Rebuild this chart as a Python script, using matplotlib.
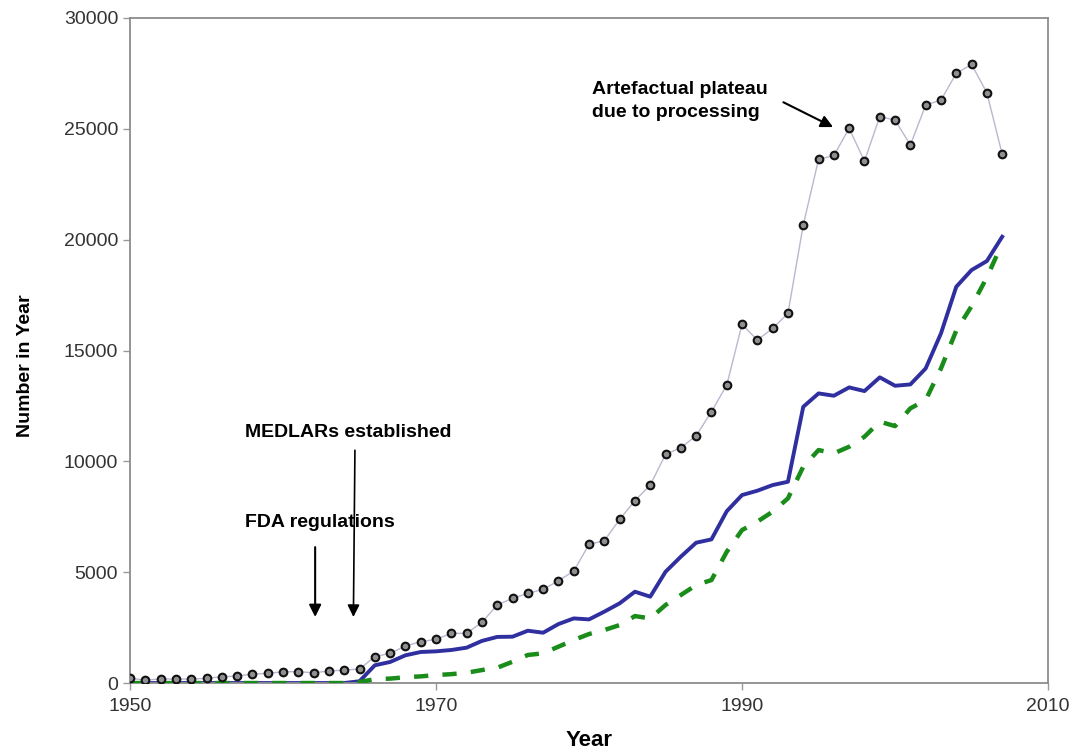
import matplotlib
matplotlib.use("Agg")
import matplotlib.pyplot as plt

plt.rcParams["font.family"] = ["Liberation Sans", "DejaVu Sans"]

years = list(range(1950, 2008))

total_records = [210, 135, 180, 180, 180, 210, 285, 315, 405, 435,
                 510, 510, 465, 540, 585, 630, 1190, 1340, 1670, 1865,
                 1970, 2240, 2240, 2740, 3520, 3820, 4045, 4225, 4615, 5050,
                 6255, 6420, 7380, 8225, 8930, 10315, 10615, 11155, 12240, 13440,
                 16180, 15470, 16000, 16675, 20660, 23620, 23800, 25020, 23545, 25550,
                 25395, 24270, 26070, 26300, 27500, 27905, 26630, 23860]

solid_series = [0, 0, 0, 0, 0, 0, 0, 0, 0, 0,
                0, 0, 0, 0, 0, 80, 800, 950, 1250, 1400,
                1430, 1490, 1595, 1900, 2080, 2090, 2360, 2270, 2660, 2915,
                2870, 3220, 3595, 4120, 3895, 5020, 5700, 6330, 6480, 7750,
                8480, 8675, 8930, 9080, 12460, 13065, 12960, 13335, 13170, 13790,
                13410, 13470, 14190, 15770, 17875, 18630, 19035, 20130]

dotted_series = [0, 0, 0, 0, 0, 0, 0, 0, 0, 0,
                 0, 0, 0, 0, 0, 50, 170, 200, 260, 300,
                 360, 400, 465, 585, 690, 960, 1265, 1340, 1640, 1940,
                 2210, 2390, 2615, 3020, 2915, 3520, 3970, 4420, 4645, 5920,
                 6900, 7280, 7730, 8330, 9760, 10510, 10360, 10660, 11110, 11790,
                 11590, 12390, 12765, 14190, 15900, 17000, 18300, 19830]

x_ticks = [1950, 1970, 1990, 2010]
y_ticks = [0, 5000, 10000, 15000, 20000, 25000, 30000]

fig = plt.figure(figsize=(10.7, 7.5), dpi=100)
ax = fig.add_axes([0.1215, 0.0893, 0.858, 0.8867])

ax.plot(years, solid_series, color="#2f2f9f", lw=2.8, zorder=2)
ax.plot(years, dotted_series, color="#1a8c1a", lw=3.2, dashes=(3.2, 3.2), zorder=3)
ax.plot(years, total_records, color="#b8b8d0", lw=1.0, marker="o", ms=5.5,
        mfc="#909090", mec="#111111", mew=1.5, zorder=4)

ax.set_xlim(1950, 2010)
ax.set_ylim(0, 30000)
ax.set_xticks(x_ticks)
ax.set_yticks(y_ticks)
ax.tick_params(axis="both", labelsize=14, labelcolor="#333333", color="#999999",
               direction="out", length=5, width=1)
ax.tick_params(axis="x", pad=6)
for side in ax.spines.values():
    side.set_color("#8c8c8c")
    side.set_linewidth(1.3)

ax.set_xlabel("Year", fontsize=16, fontweight="bold")
ax.xaxis.set_label_coords(0.5, -0.07)
ax.set_ylabel("Number in Year", fontsize=14, fontweight="bold",
              family=["Liberation Sans Narrow", "Liberation Sans", "DejaVu Sans"])
ax.yaxis.set_label_coords(-0.114, 0.477)
ax.yaxis.label.set_va("center")

arrow_style = dict(arrowstyle="-|>", color="black", mutation_scale=18,
                   shrinkA=0, shrinkB=0)
ax.annotate("", xy=(1962.1, 2980), xytext=(1962.1, 6130),
            arrowprops=dict(arrow_style, lw=1.5))
ax.annotate("", xy=(1964.6, 2980), xytext=(1964.7, 10500),
            arrowprops=dict(arrow_style, lw=1.2))
ax.annotate("", xy=(1995.95, 25080), xytext=(1992.7, 26200),
            arrowprops=dict(arrow_style, lw=1.5))

ax.text(1957.5, 11300, "MEDLARs established", fontsize=14, fontweight="bold", va="center")
ax.text(1957.5, 7250, "FDA regulations", fontsize=14, fontweight="bold", va="center")
ax.text(1980.2, 26250, "Artefactual plateau\ndue to processing", fontsize=14,
        fontweight="bold", va="center", linespacing=1.45)

plt.savefig("out.png", dpi=100)
